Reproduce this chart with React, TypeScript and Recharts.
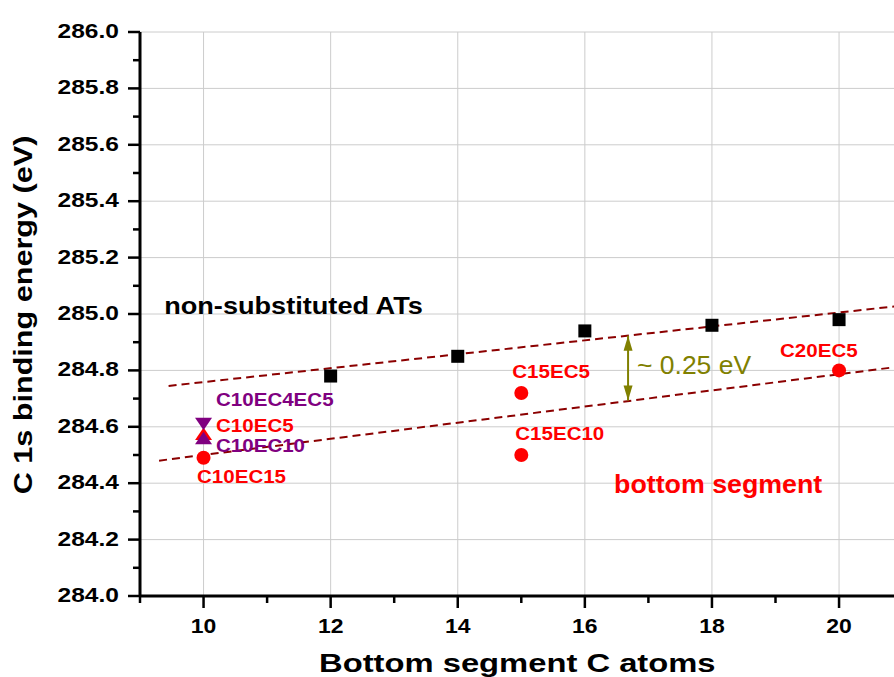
import React from 'react';
import { ScatterChart, Scatter, XAxis, YAxis, CartesianGrid, ReferenceLine } from 'recharts';

const xMajorTicks = [10, 12, 14, 16, 18, 20];
const xMinorTicks = [9, 11, 13, 15, 17, 19, 21];
const yMajorTicks = [284.0, 284.2, 284.4, 284.6, 284.8, 285.0, 285.2, 285.4, 285.6, 285.8, 286.0];
const yMinorTicks = [284.1, 284.3, 284.5, 284.7, 284.9, 285.1, 285.3, 285.5, 285.7, 285.9];

const nonSubstituted = [
  { x: 12, y: 284.78 },
  { x: 14, y: 284.85 },
  { x: 16, y: 284.94 },
  { x: 18, y: 284.96 },
  { x: 20, y: 284.98 },
];
const bottomSegmentCircles = [
  { x: 10, y: 284.49, name: 'C10EC15' },
  { x: 15, y: 284.72, name: 'C15EC5' },
  { x: 15, y: 284.5, name: 'C15EC10' },
  { x: 20, y: 284.8, name: 'C20EC5' },
];
const bottomSegmentTriangle = [{ x: 10, y: 284.575, name: 'C10EC5' }];
const doubleSubstituted = [{ x: 10, y: 284.61, name: 'C10EC4EC5' }];
const purpleUp = [{ x: 10, y: 284.56, name: 'C10EC10' }];

const upperFit = [{ x: 9.45, y: 284.745 }, { x: 21, y: 285.03 }];
const lowerFit = [{ x: 9.3, y: 284.48 }, { x: 21, y: 284.815 }];
const gapArrow = [
  { x: 16.68, y: 284.923, dir: 'up' },
  { x: 16.68, y: 284.693, dir: 'down' },
];
const annotations = [
  { x: 9.38, y: 285.0, text: 'non-substituted ATs' },
  { x: 16.46, y: 284.365, text: 'bottom segment' },
  { x: 16.82, y: 284.787, text: '~ 0.25 eV' },
];

const FONT = '"Liberation Sans", Arial, sans-serif';
const RED = '#FF0000';
const PURPLE = '#800080';
const OLIVE = '#808000';
const FIT = '#8B0000';

const labelOffset: Record<string, [number, number]> = {
  C10EC4EC5: [12.5, -18],
  C10EC5: [12.5, -2],
  C10EC10: [12.5, 14],
  C10EC15: [-6.5, 25],
  C15EC5: [-9, -15],
  C15EC10: [-6, -15],
  C20EC5: [-59, -13],
};

const annotationStyle: Record<string, { fill: string; size: number; weight: string; sx: number }> = {
  'non-substituted ATs': { fill: '#000', size: 23, weight: 'bold', sx: 1.18 },
  'bottom segment': { fill: RED, size: 25.5, weight: 'bold', sx: 1.05 },
  '~ 0.25 eV': { fill: OLIVE, size: 25, weight: 'normal', sx: 1.06 },
};

const allX = [...xMajorTicks, ...xMinorTicks].sort((a, b) => a - b);
const allY = [...yMajorTicks, ...yMinorTicks].sort((a, b) => a - b);
const isMajorX = (v: number) => Math.round(v) % 2 === 0;
const isMajorY = (v: number) => Math.round(v * 10) % 2 === 0;

const PointLabel = ({ cx, cy, name, color }: any) => {
  const off = labelOffset[name] || [0, 0];
  return (
    <text
      transform={`translate(${cx + off[0]},${cy + off[1]}) scale(1.11,1)`}
      fill={color}
      fontFamily={FONT}
      fontWeight="bold"
      fontSize={18.5}
      textAnchor="start"
    >
      {name}
    </text>
  );
};

const SquareShape = (p: any) => (
  <rect x={p.cx - 6.5} y={p.cy - 6.5} width={13} height={13} fill="#000" />
);

const CircleShape = (p: any) => (
  <g>
    <circle cx={p.cx} cy={p.cy} r={7} fill={RED} />
    <PointLabel cx={p.cx} cy={p.cy} name={p.payload.name} color={RED} />
  </g>
);

const makeTriangle = (color: string, up: boolean) => (p: any) => {
  const w = 8.5;
  const h = 12.5;
  const pts = up
    ? `${p.cx},${p.cy - h / 2} ${p.cx + w},${p.cy + h / 2} ${p.cx - w},${p.cy + h / 2}`
    : `${p.cx},${p.cy + h / 2} ${p.cx + w},${p.cy - h / 2} ${p.cx - w},${p.cy - h / 2}`;
  return (
    <g>
      <polygon points={pts} fill={color} />
      <PointLabel cx={p.cx} cy={p.cy} name={p.payload.name} color={color} />
    </g>
  );
};

const RedTriangle = makeTriangle(RED, true);
const PurpleDown = makeTriangle(PURPLE, false);
const PurpleUp = makeTriangle(PURPLE, true);

const ArrowHead = (p: any) => {
  const up = p.payload.dir === 'up';
  const w = 4.5;
  const h = 15;
  const pts = up
    ? `${p.cx},${p.cy} ${p.cx - w},${p.cy + h} ${p.cx + w},${p.cy + h}`
    : `${p.cx},${p.cy} ${p.cx - w},${p.cy - h} ${p.cx + w},${p.cy - h}`;
  return <polygon points={pts} fill={OLIVE} />;
};

const AnnotationShape = (p: any) => {
  const s = annotationStyle[p.payload.text];
  return (
    <text
      transform={`translate(${p.cx},${p.cy}) scale(${s.sx},1)`}
      fill={s.fill}
      fontFamily={FONT}
      fontWeight={s.weight}
      fontSize={s.size}
      textAnchor="start"
    >
      {p.payload.text}
    </text>
  );
};

const LeftTick = (p: any) => {
  const { x, y, payload } = p;
  const major = isMajorY(payload.value);
  return (
    <g>
      <line x1={x - (major ? 12 : 7)} x2={x} y1={y} y2={y} stroke="#000" strokeWidth={2.5} />
      {major && (
        <text
          transform={`translate(${x - 21},${y + 6}) scale(1.26,1)`}
          textAnchor="end"
          fontFamily={FONT}
          fontWeight="bold"
          fontSize={19.5}
          fill="#000"
        >
          {payload.value.toFixed(1)}
        </text>
      )}
    </g>
  );
};

const RightTick = (p: any) => {
  const { x, y, payload } = p;
  const major = isMajorY(payload.value);
  return <line x1={x - (major ? 12 : 6)} x2={x} y1={y} y2={y} stroke="#000" strokeWidth={2.5} />;
};

const BottomTick = (p: any) => {
  const { x, y, payload } = p;
  const major = isMajorX(payload.value);
  return (
    <g>
      <line x1={x} x2={x} y1={y} y2={y + (major ? 12 : 7)} stroke="#000" strokeWidth={2.5} />
      {major && (
        <text
          transform={`translate(${x},${y + 37}) scale(1.12,1)`}
          textAnchor="middle"
          fontFamily={FONT}
          fontWeight="bold"
          fontSize={20.5}
          fill="#000"
        >
          {String(payload.value)}
        </text>
      )}
    </g>
  );
};

const TopTick = (p: any) => {
  const { x, y, payload } = p;
  const major = isMajorX(payload.value);
  return <line x1={x} x2={x} y1={y} y2={y + (major ? 12 : 6)} stroke="#000" strokeWidth={2.5} />;
};

const XTitle = (p: any) => {
  const vb = p.viewBox || { x: 140, y: 596, width: 762.6, height: 81 };
  return (
    <text
      transform={`translate(${vb.x + vb.width / 2 - 4},${vb.y + 76}) scale(1.31,1)`}
      textAnchor="middle"
      fontFamily={FONT}
      fontWeight="bold"
      fontSize={25}
      fill="#000"
    >
      Bottom segment C atoms
    </text>
  );
};

const YTitle = (p: any) => {
  const vb = p.viewBox || { x: 0, y: 32, width: 140, height: 564 };
  return (
    <text
      transform={`translate(31.5,${vb.y + vb.height / 2 + 1}) rotate(-90) scale(1.2,1)`}
      textAnchor="middle"
      fontFamily={FONT}
      fontWeight="bold"
      fontSize={25.5}
      fill="#000"
    >
      C 1s binding energy (eV)
    </text>
  );
};

export default function App() {
  return (
    <div
      style={{
        position: 'fixed',
        left: 0,
        top: 0,
        width: 894,
        height: 677,
        overflow: 'hidden',
        background: '#fff',
      }}
    >
      <ScatterChart width={910} height={677} margin={{ top: 32, right: 7.4, bottom: 0, left: 0 }}>
        <CartesianGrid
          stroke="#CCCCCC"
          strokeWidth={1}
          verticalValues={xMajorTicks}
          horizontalValues={yMajorTicks}
        />
        <XAxis
          dataKey="x"
          type="number"
          domain={[9, 21]}
          ticks={allX}
          interval={0}
          allowDataOverflow
          height={81}
          tickSize={0}
          tickMargin={0}
          tickLine={false}
          tick={(p: any) => <BottomTick {...p} />}
          axisLine={{ stroke: '#000', strokeWidth: 3 }}
          label={{ content: XTitle }}
        />
        <XAxis
          xAxisId="top"
          orientation="top"
          dataKey="x"
          type="number"
          domain={[9, 21]}
          ticks={allX}
          interval={0}
          allowDataOverflow
          height={0}
          tickSize={0}
          tickMargin={0}
          tickLine={false}
          tick={(p: any) => <TopTick {...p} />}
          axisLine={{ stroke: '#000', strokeWidth: 3 }}
        />
        <YAxis
          dataKey="y"
          type="number"
          domain={[284, 286]}
          ticks={allY}
          interval={0}
          allowDataOverflow
          width={140}
          tickSize={0}
          tickMargin={0}
          tickLine={false}
          tick={(p: any) => <LeftTick {...p} />}
          axisLine={{ stroke: '#000', strokeWidth: 3 }}
          label={{ content: YTitle }}
        />
        <YAxis
          yAxisId="right"
          orientation="right"
          dataKey="y"
          type="number"
          domain={[284, 286]}
          ticks={allY}
          interval={0}
          allowDataOverflow
          width={0}
          tickSize={0}
          tickMargin={0}
          tickLine={false}
          tick={(p: any) => <RightTick {...p} />}
          axisLine={{ stroke: '#000', strokeWidth: 3 }}
        />
        <ReferenceLine
          segment={upperFit}
          stroke={FIT}
          strokeWidth={2}
          strokeDasharray="8 5"
          ifOverflow="visible"
        />
        <ReferenceLine
          segment={lowerFit}
          stroke={FIT}
          strokeWidth={2}
          strokeDasharray="8 5"
          ifOverflow="visible"
        />
        <ReferenceLine segment={gapArrow} stroke={OLIVE} strokeWidth={2} ifOverflow="visible" />
        <Scatter data={gapArrow} shape={ArrowHead} isAnimationActive={false} />
        <Scatter data={bottomSegmentCircles} shape={CircleShape} isAnimationActive={false} />
        <Scatter data={bottomSegmentTriangle} shape={RedTriangle} isAnimationActive={false} />
        <Scatter data={doubleSubstituted} shape={PurpleDown} isAnimationActive={false} />
        <Scatter data={purpleUp} shape={PurpleUp} isAnimationActive={false} />
        <Scatter data={nonSubstituted} shape={SquareShape} isAnimationActive={false} />
        <Scatter data={annotations} shape={AnnotationShape} isAnimationActive={false} />
      </ScatterChart>
    </div>
  );
}
